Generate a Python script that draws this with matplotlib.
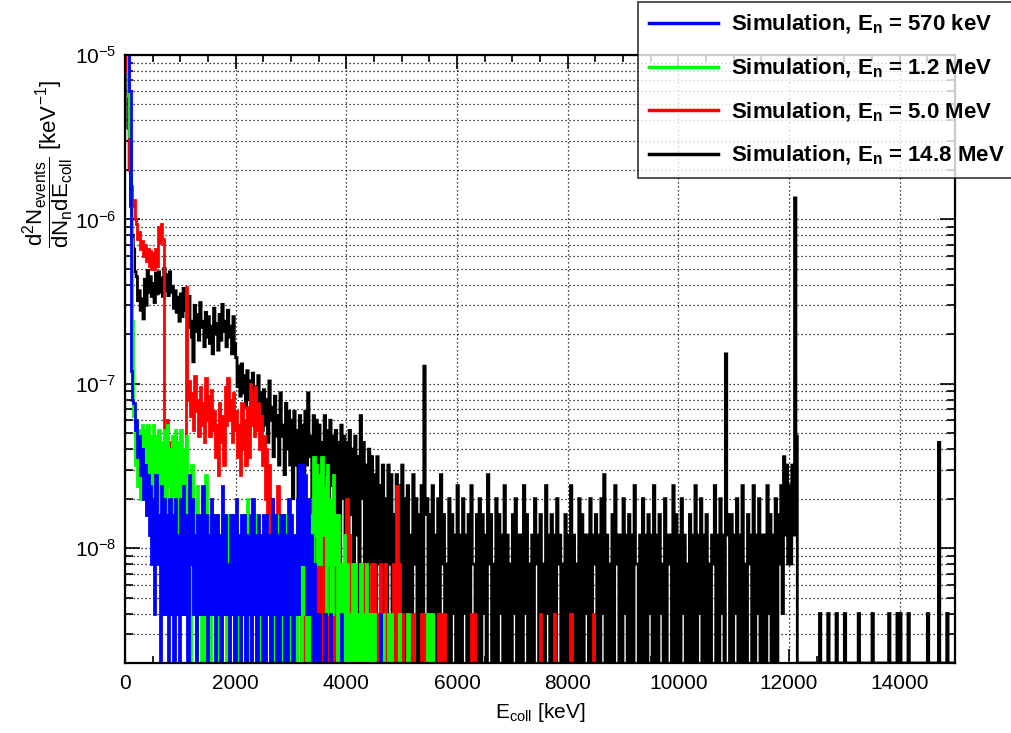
import numpy as np
import matplotlib
matplotlib.use("Agg")
import matplotlib.pyplot as plt
from matplotlib.lines import Line2D
from matplotlib.ticker import MultipleLocator, LogLocator, NullFormatter

# ROOT-like look: Helvetica style text, upright math
plt.rcParams['font.family'] = ['Liberation Sans', 'DejaVu Sans']
plt.rcParams['mathtext.fontset'] = 'custom'
plt.rcParams['mathtext.rm'] = 'Liberation Sans'
plt.rcParams['mathtext.it'] = 'Liberation Sans:italic'
plt.rcParams['mathtext.bf'] = 'Liberation Sans:bold'
plt.rcParams['mathtext.default'] = 'regular'

bin_width = 50.0        # keV per group
count_scale = 4.0e-9    # per-neutron, per-keV weight of one entry

# Each 50 keV group holds the highest and lowest fine-bin entry count.
# One row = 500 keV.
hi_14p8 = [
    4000, 900, 300, 165, 112, 92, 82, 108, 122, 112,
    102, 118, 120, 110, 126, 115, 120, 98, 92, 84,
    88, 95, 80, 85, 48, 75, 66, 78, 60, 68,
    64, 56, 72, 58, 66, 76, 60, 70, 56, 64,
    36, 32, 33, 28, 30, 26, 29, 24, 28, 22,
    23, 20, 26, 18, 21, 16, 22, 14, 19, 17,
    15, 17, 13, 16, 14, 17, 22, 12, 16, 15,
    14, 11, 16, 13, 15, 12, 13, 11, 14, 12,
    11, 13, 10, 12, 9, 16, 11, 8, 10, 9,
    7, 9, 6, 8, 5, 8, 7, 4, 7, 6,
    8, 5, 6, 3, 7, 5, 4, 6, 32, 5,
    4, 6, 3, 5, 7, 4, 2, 5, 4, 3,
    6, 3, 5, 3, 4, 6, 2, 4, 5, 4,
    3, 7, 4, 2, 5, 4, 3, 6, 3, 2,
    4, 5, 3, 3, 6, 4, 2, 3, 5, 3,
    4, 2, 6, 3, 4, 3, 5, 3, 2, 4,
    3, 6, 3, 2, 5, 4, 3, 3, 5, 3,
    4, 3, 5, 7, 3, 2, 4, 6, 3, 3,
    5, 3, 4, 3, 6, 2, 3, 5, 3, 4,
    3, 6, 3, 4, 2, 5, 3, 3, 6, 4,
    3, 5, 3, 2, 4, 3, 6, 3, 5, 3,
    4, 2, 3, 6, 3, 5, 3, 38, 3, 4,
    3, 5, 3, 6, 2, 4, 3, 6, 3, 5,
    3, 3, 6, 4, 3, 5, 4, 6, 9, 8,
    6, 8, 338, 0, 0, 0, 0, 0, 0, 0,
    0, 1, 0, 0, 1, 0, 0, 1, 0, 0,
    1, 0, 0, 0, 0, 1, 0, 0, 0, 0,
    1, 0, 0, 0, 0, 0, 1, 0, 0, 1,
    1, 0, 0, 1, 0, 0, 0, 0, 0, 0,
    1, 0, 0, 0, 11, 0, 0, 1, 0, 0,
]
lo_14p8 = [
    2000, 500, 200, 120, 80, 70, 62, 75, 90, 85,
    78, 88, 90, 85, 92, 86, 90, 72, 68, 60,
    64, 70, 55, 60, 34, 52, 46, 55, 42, 48,
    44, 38, 50, 40, 46, 52, 42, 48, 38, 44,
    24, 21, 22, 18, 20, 16, 19, 15, 18, 13,
    14, 11, 15, 9, 12, 8, 12, 7, 10, 8,
    5, 8, 4, 7, 3, 8, 9, 2, 7, 6,
    4, 2, 7, 3, 6, 1, 4, 2, 5, 3,
    2, 4, 1, 3, 0, 5, 2, 0, 2, 1,
    0, 2, 0, 1, 0, 2, 0, 0, 1, 0,
    1, 0, 0, 0, 2, 0, 0, 1, 4, 0,
    0, 1, 0, 0, 2, 0, 0, 0, 1, 0,
    0, 0, 1, 0, 0, 2, 0, 0, 0, 1,
    0, 2, 0, 0, 0, 1, 0, 0, 0, 0,
    1, 0, 0, 0, 1, 0, 0, 0, 2, 0,
    0, 0, 1, 0, 0, 0, 2, 0, 0, 0,
    0, 1, 0, 0, 0, 0, 1, 0, 0, 2,
    0, 0, 1, 0, 0, 0, 0, 2, 0, 0,
    1, 0, 0, 0, 2, 0, 0, 0, 0, 1,
    0, 0, 0, 1, 0, 0, 2, 0, 0, 0,
    0, 1, 0, 0, 0, 0, 0, 1, 0, 0,
    0, 0, 2, 0, 0, 1, 0, 4, 0, 0,
    1, 0, 0, 0, 0, 2, 0, 0, 1, 0,
    0, 0, 1, 0, 0, 0, 2, 1, 3, 2,
    2, 3, 12, 0, 0, 0, 0, 0, 0, 0,
    0, 0, 0, 0, 0, 0, 0, 0, 0, 0,
    0, 0, 0, 0, 0, 0, 0, 0, 0, 0,
    0, 0, 0, 0, 0, 0, 0, 0, 0, 0,
    0, 0, 0, 0, 0, 0, 0, 0, 0, 0,
    0, 0, 0, 0, 0, 0, 0, 0, 0, 0,
]

hi_5p0 = [
    3500, 900, 400, 330, 235, 210, 185, 175, 165, 160,
    155, 165, 225, 235, 13, 15, 11, 9, 12, 7,
    5, 8, 97, 26, 22, 28, 20, 24, 19, 27,
    21, 23, 17, 14, 19, 16, 24, 27, 20, 22,
    17, 14, 19, 15, 18, 25, 22, 24, 19, 16,
    12, 10, 8, 5, 4, 6, 3, 4, 3, 2,
    3, 2, 4, 1, 3, 2, 3, 5, 2, 3,
    2, 5, 3, 2, 1, 3, 2, 3, 2, 2,
    5, 3, 2, 2, 1, 2, 2, 1, 1, 2,
    2, 1, 2, 1, 2, 1, 1, 2, 6, 2,
    1, 0, 1, 1, 1, 0, 0, 1, 1, 0,
    0, 0, 0, 1, 1, 1, 0, 0, 0, 0,
    0, 0, 0, 0, 0, 1, 1, 0, 0, 0,
    0, 0, 0, 0, 0, 0, 0, 0, 0, 0,
    0, 0, 0, 0, 0, 0, 0, 0, 0, 0,
    1, 0, 0, 0, 0, 1, 0, 0, 0, 0,
    0, 1, 0, 0, 0, 0, 0, 0, 0, 1,
]
lo_5p0 = [
    2000, 500, 300, 250, 190, 165, 150, 140, 130, 125,
    125, 130, 180, 190, 6, 8, 5, 4, 6, 2,
    1, 3, 20, 16, 13, 17, 12, 14, 11, 15,
    12, 13, 9, 7, 11, 8, 14, 15, 11, 13,
    9, 7, 10, 8, 9, 14, 12, 13, 10, 8,
    5, 4, 3, 1, 0, 2, 0, 1, 0, 0,
    0, 0, 1, 0, 0, 0, 1, 0, 0, 0,
    0, 0, 1, 0, 0, 0, 0, 1, 0, 0,
    0, 1, 0, 0, 0, 0, 1, 0, 0, 0,
    0, 0, 1, 0, 0, 0, 0, 0, 1, 0,
    0, 0, 0, 0, 0, 0, 0, 0, 0, 0,
    0, 0, 0, 0, 0, 0, 0, 0, 0, 0,
    0, 0, 0, 0, 0, 0, 0, 0, 0, 0,
    0, 0, 0, 0, 0, 0, 0, 0, 0, 0,
    0, 0, 0, 0, 0, 0, 0, 0, 0, 0,
    0, 0, 0, 0, 0, 0, 0, 0, 0, 0,
    0, 0, 0, 0, 0, 0, 0, 0, 0, 0,
]

hi_1p2 = [
    5000, 1400, 190, 16, 14, 13, 14, 13, 14, 12,
    14, 12, 13, 11, 13, 14, 10, 12, 13, 11,
    13, 10, 12, 6, 8, 5, 6, 3, 5, 7,
    4, 5, 3, 4, 2, 4, 3, 4, 3, 2,
    4, 2, 3, 2, 5, 3, 2, 4, 2, 3,
    2, 4, 2, 3, 2, 4, 3, 2, 4, 2,
    3, 2, 4, 3, 4, 2, 3, 4, 9, 8,
    7, 9, 6, 8, 5, 7, 4, 4, 2, 3,
    2, 1, 2, 2, 1, 2, 1, 2, 1, 1,
    1, 0, 1, 1, 0, 1, 1, 0, 0, 1,
    0, 0, 1, 0, 0, 0, 0, 0, 0, 1,
    1, 1, 0,
]
lo_1p2 = [
    3000, 800, 60, 8, 6, 5, 6, 4, 5, 3,
    5, 3, 6, 2, 4, 6, 1, 4, 5, 2,
    4, 2, 3, 0, 1, 0, 1, 0, 0, 1,
    0, 1, 0, 0, 0, 1, 0, 0, 1, 0,
    0, 0, 1, 0, 0, 0, 1, 0, 0, 0,
    0, 1, 0, 0, 0, 1, 0, 0, 1, 0,
    0, 0, 1, 0, 1, 0, 0, 1, 3, 2,
    2, 3, 1, 2, 1, 2, 0, 1, 0, 0,
    0, 0, 0, 0, 0, 0, 0, 0, 0, 0,
    0, 0, 0, 0, 0, 0, 0, 0, 0, 0,
    0, 0, 0, 0, 0, 0, 0, 0, 0, 0,
    0, 0, 0,
]

hi_570 = [
    6000, 2600, 30, 19, 15, 12, 10, 8, 7, 6,
    5, 7, 4, 6, 5, 4, 5, 4, 5, 3,
    5, 6, 4, 7, 5, 3, 4, 4, 6, 4,
    3, 5, 4, 4, 3, 6, 4, 2, 4, 4,
    5, 3, 4, 4, 3, 4, 5, 3, 4, 3,
    4, 4, 3, 5, 4, 3, 4, 4, 3, 5,
    4, 3, 5, 8, 8, 7, 5, 3, 2, 1,
    1, 0, 1, 0, 1, 0, 0, 0, 1, 0,
    0, 0, 0, 0, 0, 0, 0, 0, 0, 0,
    0, 0, 1, 0, 0, 0, 0, 0, 0, 0,
    0,
]
lo_570 = [
    4000, 1500, 20, 13, 9, 7, 5, 4, 3, 2,
    1, 2, 0, 1, 1, 0, 1, 0, 1, 0,
    1, 1, 0, 2, 1, 0, 1, 1, 1, 0,
    1, 1, 0, 1, 0, 1, 1, 0, 1, 0,
    1, 0, 1, 0, 1, 0, 1, 0, 1, 0,
    0, 1, 0, 1, 0, 0, 1, 0, 0, 1,
    0, 1, 1, 2, 2, 1, 1, 0, 0, 0,
    0, 0, 0, 0, 0, 0, 0, 0, 0, 0,
    0, 0, 0, 0, 0, 0, 0, 0, 0, 0,
    0, 0, 0, 0, 0, 0, 0, 0, 0, 0,
    0,
]

series_labels = [
    r"Simulation, $\mathbf{E_{n}}$ = 570 keV",
    r"Simulation, $\mathbf{E_{n}}$ = 1.2 MeV",
    r"Simulation, $\mathbf{E_{n}}$ = 5.0 MeV",
    r"Simulation, $\mathbf{E_{n}}$ = 14.8 MeV",
]
series_hi = [hi_570, hi_1p2, hi_5p0, hi_14p8]
series_lo = [lo_570, lo_1p2, lo_5p0, lo_14p8]
series_colors = ['#0000ff', '#00ff00', '#ff0000', '#000000']

y_min, y_max = 2.0e-9, 1.0e-5

fig = plt.figure(figsize=(10.11, 7.33), dpi=100)
ax = fig.add_axes([125 / 1011, 1 - 663 / 733, 830 / 1011, 608 / 733])

# highest energy first so the low energy spectra sit on top
for hi, lo, color in reversed(list(zip(series_hi, series_lo, series_colors))):
    hi = np.asarray(hi, dtype=float)
    lo = np.asarray(lo, dtype=float)
    # split every 50 keV group into two 25 keV half bins: max then min
    vals = np.empty(2 * len(hi))
    vals[0::2] = hi
    vals[1::2] = lo
    vals = np.maximum(vals * count_scale, y_min)   # empty bins lie on the floor
    edges = np.arange(len(vals) + 1) * bin_width / 2
    ax.stairs(vals, edges, baseline=None, color=color, lw=2.0)

ax.set_yscale('log')
ax.set_xlim(0, 15000)
ax.set_ylim(y_min, y_max)

ax.xaxis.set_major_locator(MultipleLocator(2000))
ax.xaxis.set_minor_locator(MultipleLocator(500))
ax.yaxis.set_major_locator(LogLocator(base=10))
ax.yaxis.set_minor_locator(LogLocator(base=10, subs=np.arange(2, 10)))
ax.yaxis.set_minor_formatter(NullFormatter())

ax.tick_params(which='both', direction='in', top=True, right=True,
               width=1.2, labelsize=15, color='black')
ax.tick_params(axis='x', which='major', length=10, pad=8)
ax.tick_params(axis='x', which='minor', length=5)
ax.tick_params(axis='y', which='major', length=11, pad=6)
ax.tick_params(axis='y', which='minor', length=6)

dots = (0, (1, 2.2))
ax.grid(True, axis='x', which='major', color='black', ls=dots, lw=0.9)
ax.grid(True, axis='y', which='both', color='black', ls=dots, lw=0.9)
ax.set_axisbelow(True)

for s in ax.spines.values():
    s.set_linewidth(1.6)

ax.set_xlabel(r"E$_{coll}$ [keV]", fontsize=15, labelpad=6)
ax.set_ylabel(r"$\dfrac{d^{2}N_{events}}{dN_{n}dE_{coll}}$ [keV$^{-1}$]", fontsize=16)
ax.yaxis.set_label_coords(-0.058, 0.82)

handles = [Line2D([], [], color=c, lw=2.5) for c in series_colors]
leg = fig.legend(handles, series_labels, loc='upper left',
                 bbox_to_anchor=(638 / 1011, 1 - 2 / 733),
                 bbox_transform=fig.transFigure,
                 prop={'weight': 'bold', 'size': 16},
                 frameon=True, fancybox=False, edgecolor='black',
                 handlelength=3.1, handletextpad=0.6, labelspacing=0.92,
                 borderpad=0.5, borderaxespad=0)
leg.get_frame().set_linewidth(1.2)

fig.savefig('out.png', dpi=100)
